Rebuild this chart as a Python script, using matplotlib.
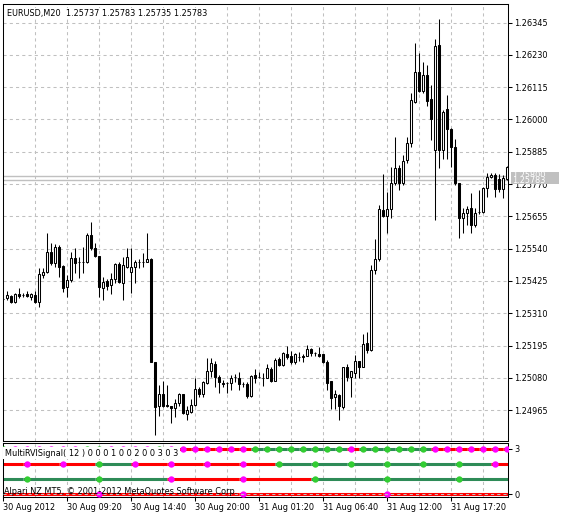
import matplotlib
matplotlib.use('Agg')
import matplotlib.pyplot as plt
from matplotlib.patches import Rectangle
from matplotlib.transforms import blended_transform_factory

plt.rcParams['font.family'] = ['DejaVu Sans']
plt.rcParams['font.size'] = 5.9

symbol = 'EURUSD,M20'
last_ohlc = ['1.25737', '1.25783', '1.25735', '1.25783']
ask_price = 1.25800
bid_price = 1.25783

# M20 candles, oldest first
opens = [1.25361, 1.25364, 1.25371, 1.25350, 1.25378, 1.25375, 1.25378, 1.25368, 1.25375, 1.25350,
         1.25446, 1.25457, 1.25528, 1.25489, 1.25546, 1.25478, 1.25403, 1.25428, 1.25507, 1.25492,
         1.25492, 1.25492, 1.25588, 1.25542, 1.25514, 1.25400, 1.25425, 1.25410, 1.25432, 1.25485,
         1.25418, 1.25475, 1.25457, 1.25475, 1.25492, 1.25492, 1.25492, 1.25503, 1.25136, 1.24980,
         1.25022, 1.24983, 1.24980, 1.24973, 1.24990, 1.25022, 1.24951, 1.24958, 1.24983, 1.25040,
         1.25022, 1.25062, 1.25104, 1.25129, 1.25083, 1.25062, 1.25062, 1.25062, 1.25083, 1.25079,
         1.25058, 1.25058, 1.25015, 1.25090, 1.25083, 1.25079, 1.25079, 1.25111, 1.25069, 1.25147,
         1.25126, 1.25165, 1.25158, 1.25136, 1.25154, 1.25158, 1.25158, 1.25183, 1.25168, 1.25165,
         1.25165, 1.25136, 1.25069, 1.25012, 1.25019, 1.24976, 1.25118, 1.25083, 1.25097, 1.25140,
         1.25118, 1.25204, 1.25179, 1.25464, 1.25503, 1.25677, 1.25656, 1.25681, 1.25774, 1.25827,
         1.25774, 1.25855, 1.25916, 1.26062, 1.26169, 1.26101, 1.26158, 1.26073, 1.25891, 1.26265,
         1.25891, 1.26037, 1.25966, 1.25902, 1.25774, 1.25649, 1.25667, 1.25685, 1.25624, 1.25670,
         1.25670, 1.25756, 1.25795, 1.25802, 1.25788, 1.25752, 1.25788]
highs = [1.25368, 1.25389, 1.25375, 1.25382, 1.25400, 1.25382, 1.25389, 1.25382, 1.25389, 1.25471,
         1.25471, 1.25596, 1.25560, 1.25556, 1.25553, 1.25482, 1.25446, 1.25528, 1.25542, 1.25510,
         1.25546, 1.25596, 1.25635, 1.25560, 1.25514, 1.25439, 1.25432, 1.25453, 1.25489, 1.25492,
         1.25510, 1.25542, 1.25542, 1.25499, 1.25503, 1.25524, 1.25596, 1.25507, 1.25136, 1.25054,
         1.25069, 1.25054, 1.24980, 1.25005, 1.25026, 1.25022, 1.24980, 1.25005, 1.25079, 1.25047,
         1.25069, 1.25151, 1.25151, 1.25140, 1.25090, 1.25072, 1.25065, 1.25090, 1.25094, 1.25101,
         1.25065, 1.25065, 1.25090, 1.25111, 1.25101, 1.25097, 1.25129, 1.25118, 1.25151, 1.25154,
         1.25172, 1.25193, 1.25175, 1.25168, 1.25172, 1.25165, 1.25197, 1.25186, 1.25172, 1.25190,
         1.25165, 1.25143, 1.25069, 1.25037, 1.25022, 1.25118, 1.25129, 1.25104, 1.25161, 1.25140,
         1.25236, 1.25243, 1.25482, 1.25574, 1.25695, 1.25806, 1.25741, 1.25830, 1.25937, 1.25838,
         1.25873, 1.25937, 1.26094, 1.26272, 1.26236, 1.26204, 1.26194, 1.26122, 1.26286, 1.26357,
         1.26033, 1.26087, 1.25969, 1.25930, 1.25774, 1.25685, 1.25692, 1.25738, 1.25685, 1.25749,
         1.25759, 1.25809, 1.25809, 1.25809, 1.25806, 1.25802, 1.25834]
lows = [1.25357, 1.25357, 1.25346, 1.25346, 1.25364, 1.25368, 1.25368, 1.25357, 1.25346, 1.25332,
        1.25435, 1.25453, 1.25482, 1.25474, 1.25439, 1.25385, 1.25368, 1.25421, 1.25453, 1.25435,
        1.25453, 1.25489, 1.25535, 1.25510, 1.25368, 1.25357, 1.25393, 1.25378, 1.25418, 1.25418,
        1.25357, 1.25471, 1.25382, 1.25418, 1.25471, 1.25474, 1.25492, 1.25136, 1.24876, 1.24944,
        1.24976, 1.24976, 1.24919, 1.24940, 1.24980, 1.24951, 1.24930, 1.24955, 1.24980, 1.25012,
        1.25012, 1.25058, 1.25083, 1.25047, 1.25026, 1.25047, 1.25026, 1.25037, 1.25065, 1.25037,
        1.25047, 1.25008, 1.25012, 1.25062, 1.25079, 1.25051, 1.25079, 1.25065, 1.25069, 1.25122,
        1.25122, 1.25147, 1.25129, 1.25129, 1.25140, 1.25136, 1.25158, 1.25158, 1.25158, 1.25154,
        1.25133, 1.25037, 1.24969, 1.24969, 1.24930, 1.24969, 1.25069, 1.25012, 1.25079, 1.25079,
        1.25118, 1.25168, 1.25175, 1.25450, 1.25496, 1.25652, 1.25596, 1.25649, 1.25766, 1.25749,
        1.25766, 1.25845, 1.25902, 1.26058, 1.26097, 1.26094, 1.26048, 1.25927, 1.25642, 1.25827,
        1.25859, 1.25859, 1.25830, 1.25766, 1.25578, 1.25596, 1.25624, 1.25596, 1.25617, 1.25663,
        1.25667, 1.25724, 1.25791, 1.25724, 1.25741, 1.25720, 1.25784]
closes = [1.25362, 1.25375, 1.25350, 1.25378, 1.25371, 1.25376, 1.25371, 1.25378, 1.25350, 1.25450,
          1.25457, 1.25528, 1.25489, 1.25546, 1.25474, 1.25400, 1.25428, 1.25507, 1.25489, 1.25491,
          1.25493, 1.25588, 1.25542, 1.25514, 1.25403, 1.25421, 1.25407, 1.25432, 1.25485, 1.25421,
          1.25482, 1.25510, 1.25475, 1.25492, 1.25493, 1.25491, 1.25503, 1.25136, 1.24976, 1.25022,
          1.24980, 1.24980, 1.24973, 1.24990, 1.25022, 1.24955, 1.24965, 1.24983, 1.25040, 1.25022,
          1.25065, 1.25104, 1.25133, 1.25083, 1.25065, 1.25058, 1.25061, 1.25079, 1.25084, 1.25058,
          1.25057, 1.25015, 1.25086, 1.25079, 1.25082, 1.25080, 1.25115, 1.25069, 1.25143, 1.25126,
          1.25168, 1.25154, 1.25136, 1.25165, 1.25153, 1.25154, 1.25183, 1.25168, 1.25169, 1.25158,
          1.25136, 1.25062, 1.25008, 1.25022, 1.24980, 1.25118, 1.25083, 1.25104, 1.25140, 1.25118,
          1.25200, 1.25179, 1.25464, 1.25503, 1.25681, 1.25656, 1.25681, 1.25774, 1.25827, 1.25774,
          1.25852, 1.25916, 1.26069, 1.26169, 1.26101, 1.26158, 1.26065, 1.26001, 1.26261, 1.25891,
          1.26026, 1.25966, 1.25902, 1.25774, 1.25649, 1.25667, 1.25681, 1.25624, 1.25667, 1.25671,
          1.25756, 1.25795, 1.25802, 1.25752, 1.25752, 1.25791, 1.25830]

price_ticks = [1.24965, 1.25080, 1.25195, 1.25310, 1.25425, 1.25540, 1.25655,
               1.25770, 1.25885, 1.26000, 1.26115, 1.26230, 1.26345]
time_labels = ['30 Aug 2012', '30 Aug 09:20', '30 Aug 14:40', '30 Aug 20:00',
               '31 Aug 01:20', '31 Aug 06:40', '31 Aug 12:00', '31 Aug 17:20']
label_bars = [0, 16, 32, 48, 64, 80, 96, 112]

# MultiRVISignal rows: g = up, r = down
rvi_label = 'MultiRVISignal( 12 ) 0 0 0 1 0 0 2 0 0 3 0 3'
row_levels = [3, 2, 1, 0]
row_first = [0, 6, 6, 24]
row_step = [3, 9, 18, 36]
row_before = ['g', 'r', 'g', 'r']
row_states = ['grrrrrrggrrrrgrrrrrrrggggggggrggggggrrrrrrr',
              'rrgrrrrggggggr',
              'ggrrggg',
              'rrr']

grid_col = '#C0C0C0'
line_col = {'g': '#2E8B57', 'r': '#FF0000'}
dot_col = {'g': '#32CD32', 'r': '#FF00FF'}

W, H = 561, 520
fig = plt.figure(figsize=(W / 100, H / 100), dpi=100)
ax = fig.add_axes([3 / W, 1 - 441 / H, 505 / W, 437 / H])
ax2 = fig.add_axes([3 / W, 1 - 497 / H, 505 / W, 54 / H])

n = len(opens)
xmax = 126.25
for a in (ax, ax2):
    a.set_xlim(0, xmax)
    for s in a.spines.values():
        s.set_linewidth(0.75)
    for g in range(8, n, 8):
        a.axvline(g, color=grid_col, lw=0.75, ls=(0, (3, 3)), zorder=0)

# ---- price chart
ax.set_ylim(1.24855, 1.26411)
ax.set_xticks([])
ax.yaxis.tick_right()
ax.set_yticks(price_ticks)
ax.set_yticklabels(['%.5f' % p for p in price_ticks])
ax.tick_params(axis='y', direction='out', length=3, width=0.75, pad=1.5)
for p in price_ticks:
    ax.axhline(p, color=grid_col, lw=0.75, ls=(0, (3, 3)), zorder=0)

ax.axhline(ask_price, color=grid_col, lw=1, zorder=1)
ax.axhline(bid_price, color=grid_col, lw=1, zorder=1)

xs = list(range(n))
ax.vlines(xs, lows, highs, color='black', lw=0.75, zorder=2)
bottoms = [min(o, c) for o, c in zip(opens, closes)]
heights = [abs(c - o) for o, c in zip(opens, closes)]
faces = ['white' if c >= o else 'black' for o, c in zip(opens, closes)]
ax.bar(xs, heights, bottom=bottoms, width=0.55, color=faces, edgecolor='black',
       linewidth=0.75, zorder=3)

ax.text(0.007, 0.978, symbol + '  ' + ' '.join(last_ohlc), transform=ax.transAxes,
        va='center', ha='left', zorder=5,
        bbox=dict(facecolor='white', edgecolor='none', pad=0.5))

# ask label first, bid label drawn over it
trans = blended_transform_factory(ax.transAxes, ax.transData)
box_h = 0.000285
z = 6
for price in (ask_price, bid_price):
    ax.add_patch(Rectangle((1.006, price - box_h / 2), 0.095, box_h, transform=trans,
                           facecolor=grid_col, edgecolor='none', clip_on=False, zorder=z))
    ax.text(1.009, price, '%.5f' % price, transform=trans, color='white', va='center',
            ha='left', clip_on=False, zorder=z + 1)
    z += 2

# ---- indicator panel
ax2.set_ylim(-0.2, 3.4)
ax2.yaxis.tick_right()
ax2.set_yticks([0, 3])
ax2.set_yticklabels(['0', '3'])
ax2.tick_params(axis='y', direction='out', length=3, width=0.75, pad=1.5)
ax2.set_xticks(label_bars)
ax2.set_xticklabels(time_labels)
for lbl in ax2.get_xticklabels():
    lbl.set_ha('left')
ax2.tick_params(axis='x', direction='out', length=3, width=0.75, pad=1.5)

for lev, first, step, pre, states in zip(row_levels, row_first, row_step, row_before, row_states):
    ax2.plot([-1, first - 1], [lev, lev], color=line_col[pre], lw=2.2,
             solid_capstyle='butt', zorder=2)
    for k, s in enumerate(states):
        i = first + step * k
        ax2.plot([i - 1, i - 1 + step], [lev, lev], color=line_col[s], lw=2.2,
                 solid_capstyle='butt', zorder=2)
    for k, s in enumerate(states):
        ax2.plot(first + step * k, lev, 'o', color=dot_col[s], markersize=4.6,
                 markeredgewidth=0, zorder=3)

ax2.axhline(0, color=grid_col, lw=0.75, ls=(0, (3, 3)), zorder=4)

tr2 = blended_transform_factory(ax2.transAxes, ax2.transData)
ax2.text(0.004, 2.72, rvi_label, transform=tr2, va='center', ha='left', zorder=5,
         bbox=dict(facecolor='white', edgecolor='none', pad=1.2))
ax2.text(0.002, 0.2, 'Alpari NZ MT5, \u00a9 2001-2012 MetaQuotes Software Corp.',
         transform=tr2, va='center', ha='left', zorder=5)

fig.savefig('out.png', dpi=100)
